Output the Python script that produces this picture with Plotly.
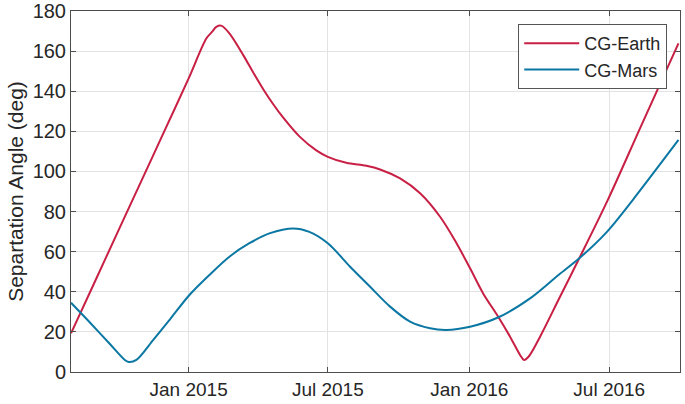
import plotly.graph_objects as go

# CG-Earth separation angle (deg)
earth_dates = [
    "2014-08-01", "2014-09-01", "2014-10-01", "2014-11-01", "2014-12-01",
    "2015-01-01", "2015-01-24", "2015-02-01", "2015-02-06", "2015-02-13",
    "2015-02-23", "2015-03-13", "2015-03-26", "2015-04-08", "2015-04-21",
    "2015-05-04", "2015-05-25", "2015-06-16", "2015-07-01", "2015-07-25",
    "2015-08-20", "2015-09-07", "2015-10-03", "2015-10-29", "2015-11-24",
    "2015-12-13", "2016-01-02", "2016-01-19", "2016-02-08", "2016-02-23",
    "2016-03-07", "2016-03-12", "2016-03-18", "2016-04-02", "2016-04-26",
    "2016-05-23", "2016-06-29", "2016-08-10", "2016-09-29",
]
earth_values = [
    19.3, 45.0, 70.0, 95.7, 120.6,
    146.4, 166.3, 169.8, 172.1, 172.6,
    168.8, 158.0, 149.3, 141.0, 133.5,
    126.8, 117.5, 110.5, 107.3, 104.3,
    102.8, 101.0, 96.5, 89.1, 77.4,
    65.8, 51.7, 39.2, 27.3, 17.6,
    8.5, 6.0, 7.6, 17.6, 36.0,
    56.7, 85.7, 121.5, 163.9,
]

# CG-Mars separation angle (deg)
mars_dates = [
    "2014-08-01", "2014-08-25", "2014-09-20", "2014-10-10", "2014-10-15",
    "2014-10-25", "2014-11-16", "2014-12-07", "2015-01-02", "2015-01-28",
    "2015-02-23", "2015-03-21", "2015-04-16", "2015-05-17", "2015-06-07",
    "2015-07-01", "2015-07-30", "2015-08-25", "2015-09-20", "2015-10-16",
    "2015-11-11", "2015-12-02", "2016-01-02", "2016-02-08", "2016-03-20",
    "2016-04-26", "2016-05-23", "2016-06-28", "2016-08-01", "2016-09-29",
]
mars_values = [
    34.5, 24.9, 14.2, 6.0, 5.0,
    6.0, 16.0, 25.9, 38.4, 48.4,
    57.5, 64.2, 69.1, 71.6, 69.9,
    64.2, 52.5, 42.5, 32.6, 25.1,
    21.8, 21.0, 22.6, 27.3, 36.7,
    48.4, 56.7, 69.9, 86.0, 115.7,
]

x_tick_dates = ["2015-01-01", "2015-07-01", "2016-01-01", "2016-07-01"]
x_tick_labels = ["Jan 2015", "Jul 2015", "Jan 2016", "Jul 2016"]
y_ticks = [0, 20, 40, 60, 80, 100, 120, 140, 160, 180]

FONT = "Liberation Sans, Arial, Helvetica, sans-serif"
AXCOL = "#4d4d4d"
TXT = "#262626"

fig = go.Figure()
fig.add_trace(go.Scatter(
    x=earth_dates, y=earth_values, mode="lines", name="CG-Earth",
    line=dict(color="#C81F44", width=2, shape="spline", smoothing=0.9),
))
fig.add_trace(go.Scatter(
    x=mars_dates, y=mars_values, mode="lines", name="CG-Mars",
    line=dict(color="#0B77A3", width=2, shape="spline", smoothing=0.9),
))

fig.update_layout(
    width=685, height=404,
    margin=dict(l=71, r=5, t=11, b=32, autoexpand=False),
    paper_bgcolor="white", plot_bgcolor="white",
    font=dict(family=FONT, size=20, color=TXT),
    showlegend=True,
    legend=dict(
        x=0.979, y=0.964, xanchor="right", yanchor="top",
        bgcolor="white", bordercolor="#555555", borderwidth=1,
        font=dict(family=FONT, size=18, color=TXT),
        itemwidth=55, tracegroupgap=0,
    ),
    xaxis=dict(
        type="date", range=["2014-08-01", "2016-10-01"],
        tickmode="array", tickvals=x_tick_dates, ticktext=x_tick_labels,
        showgrid=True, gridcolor="#e3e3e3", gridwidth=1,
        showline=True, linecolor=AXCOL, linewidth=1, mirror="ticks",
        ticks="inside", ticklen=5, tickcolor=AXCOL,
        tickfont=dict(family=FONT, size=19, color=TXT),
        zeroline=False, automargin=False,
    ),
    yaxis=dict(
        range=[0, 180], tickmode="array", tickvals=y_ticks,
        showgrid=True, gridcolor="#e3e3e3", gridwidth=1,
        showline=True, linecolor=AXCOL, linewidth=1, mirror="ticks",
        ticks="inside", ticklen=5, tickcolor=AXCOL,
        tickfont=dict(family=FONT, size=20, color=TXT),
        title=dict(text="Separtation Angle (deg)", font=dict(family=FONT, size=21, color=TXT), standoff=3),
        zeroline=False, automargin=False,
    ),
)

fig.write_html(
    "out.html",
    config={"displayModeBar": False},
    post_script="document.body.style.margin='0';document.body.style.overflow='hidden';",
)
